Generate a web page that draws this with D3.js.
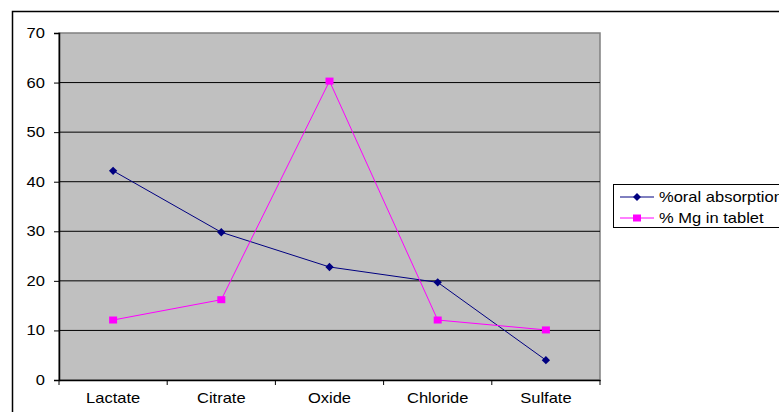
<!DOCTYPE html>
<html>
<head>
<meta charset="utf-8">
<script src="https://cdn.jsdelivr.net/npm/d3@7"></script>
<style>
  body { margin: 0; background: #fff; }
  text { font-family: "Liberation Sans", Arial, sans-serif; font-size: 14px; fill: #000; }
</style>
</head>
<body>
<script>
var categories = ["Lactate", "Citrate", "Oxide", "Chloride", "Sulfate"];
var oralAbsorption = [42.2, 29.8, 22.8, 19.7, 4.0];
var mgInTablet = [12.1, 16.2, 60.3, 12.1, 10.1];
var yTicks = [0, 10, 20, 30, 40, 50, 60, 70];

var margin = {left: 59, right: 179, top: 33, bottom: 32},
    width = 779 - margin.left - margin.right,
    height = 412 - margin.top - margin.bottom;

var stretch = "scale(1.18,1)"; // text in the original is a bit wide

var svg = d3.select("body")
    .append("svg")
    .attr("width", 779)
    .attr("height", 412);

// outer chart border (runs off right and bottom)
svg.append("rect")
    .attr("x", 12.5).attr("y", 11.5)
    .attr("width", 800).attr("height", 450)
    .attr("fill", "none")
    .attr("stroke", "#000")
    .attr("stroke-width", 1.5);

var g = svg.append("g")
    .attr("transform", "translate(" + margin.left + "," + margin.top + ")");

var x = d3.scaleBand()
    .domain(categories)
    .range([0, width]);

var y = d3.scaleLinear()
    .domain([0, 70])
    .range([height, 0]);

// plot area
g.append("rect")
    .attr("width", width)
    .attr("height", height)
    .attr("fill", "#c0c0c0")
    .attr("stroke", "#808080")
    .attr("stroke-width", 1.5);

// gridlines
g.selectAll(".grid")
    .data(yTicks.slice(1, -1))
    .enter().append("line")
    .attr("x1", 0).attr("x2", width)
    .attr("y1", function(d) { return y(d); })
    .attr("y2", function(d) { return y(d); })
    .attr("stroke", "#000")
    .attr("stroke-width", 1);

// y axis
var yAxis = g.append("g")
    .call(d3.axisLeft(y).tickValues(yTicks).tickSize(5).tickPadding(7));
yAxis.select(".domain").attr("stroke", "#000").attr("stroke-width", 1.5);
yAxis.selectAll("text").style("font-size", "14px").attr("transform", stretch);

// x axis, ticks at category boundaries
var xAxis = g.append("g")
    .attr("transform", "translate(0," + height + ")")
    .call(d3.axisBottom(x).tickSize(0).tickPadding(13));
xAxis.select(".domain").attr("stroke", "#000").attr("stroke-width", 1.5);
xAxis.selectAll("text").style("font-size", "14px").attr("transform", stretch);
xAxis.selectAll(".bound")
    .data(d3.range(categories.length + 1))
    .enter().append("line")
    .attr("x1", function(i) { return i * x.bandwidth(); })
    .attr("x2", function(i) { return i * x.bandwidth(); })
    .attr("y1", 0).attr("y2", 5)
    .attr("stroke", "#000");

var line = d3.line()
    .x(function(d, i) { return x(categories[i]) + x.bandwidth() / 2; })
    .y(function(d) { return y(d); });

// %oral absorption
g.append("path")
    .datum(oralAbsorption)
    .attr("d", line)
    .attr("fill", "none")
    .attr("stroke", "#000080")
    .attr("stroke-width", 1);
g.selectAll(".diamond")
    .data(oralAbsorption)
    .enter().append("path")
    .attr("d", d3.symbol().type(d3.symbolDiamond2).size(44))
    .attr("transform", function(d, i) {
        return "translate(" + (x(categories[i]) + x.bandwidth() / 2) + "," + y(d) + ")";
    })
    .attr("fill", "#000080");

// % Mg in tablet
g.append("path")
    .datum(mgInTablet)
    .attr("d", line)
    .attr("fill", "none")
    .attr("stroke", "#ff00ff")
    .attr("stroke-width", 1);
g.selectAll(".square")
    .data(mgInTablet)
    .enter().append("rect")
    .attr("x", function(d, i) { return x(categories[i]) + x.bandwidth() / 2 - 4; })
    .attr("y", function(d) { return y(d) - 3.5; })
    .attr("width", 8).attr("height", 7)
    .attr("fill", "#ff00ff");

// legend
var legend = svg.append("g").attr("transform", "translate(613,184)");
legend.append("rect")
    .attr("x", 0.5).attr("y", 0.5)
    .attr("width", 200).attr("height", 43)
    .attr("fill", "#fff")
    .attr("stroke", "#000");
var legendItems = [
    {label: "%oral absorption", color: "#000080", shape: "diamond"},
    {label: "% Mg in tablet", color: "#ff00ff", shape: "square"}
];
legendItems.forEach(function(item, i) {
    var ly = 13 + i * 21;
    legend.append("line")
        .attr("x1", 7).attr("x2", 41)
        .attr("y1", ly).attr("y2", ly)
        .attr("stroke", item.color);
    if (item.shape == "diamond") {
        legend.append("path")
            .attr("d", d3.symbol().type(d3.symbolDiamond2).size(40))
            .attr("transform", "translate(24," + ly + ")")
            .attr("fill", item.color);
    } else {
        legend.append("rect")
            .attr("x", 20).attr("y", ly - 3.5)
            .attr("width", 8).attr("height", 7)
            .attr("fill", item.color);
    }
    legend.append("g")
        .attr("transform", "translate(46," + (ly + 5) + ") " + stretch)
        .append("text")
        .style("font-size", "14px")
        .text(item.label);
});
</script>
</body>
</html>
